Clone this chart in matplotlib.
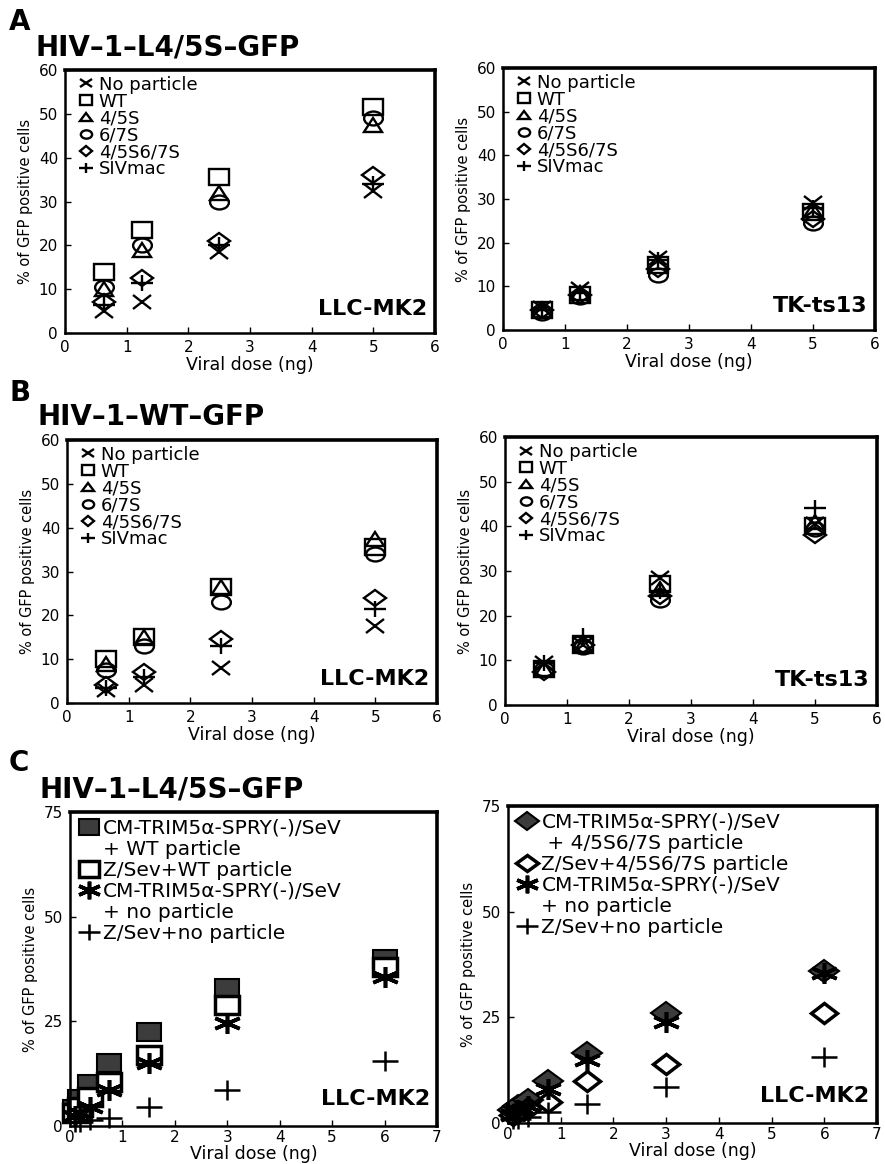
import matplotlib
matplotlib.use("Agg")
import matplotlib.pyplot as plt
from matplotlib.lines import Line2D
from matplotlib.markers import MarkerStyle
from matplotlib.transforms import Affine2D

W, H = 885, 1164
plt.rcParams['font.family'] = ['DejaVu Sans']

# panels A and B: viral dose (ng) and % of GFP positive cells
dose_ab = [0.625, 1.25, 2.5, 5]
labels_ab = ["No particle", "WT", "4/5S", "6/7S", "4/5S6/7S", "SIVmac"]

a_llc_none = [5, 7, 18.5, 32.5]
a_llc_wt = [14, 23.5, 35.5, 51.5]
a_llc_45 = [10, 19, 32, 47.5]
a_llc_67 = [10.5, 20, 30, 49]
a_llc_4567 = [7, 12.5, 21, 36]
a_llc_siv = [6.5, 11.5, 20, 34]

a_tk_none = [5, 9.5, 16.5, 29]
a_tk_wt = [4.5, 8, 15, 27]
a_tk_45 = [4.5, 8.5, 15.5, 27.5]
a_tk_67 = [4, 7.5, 12.5, 24.5]
a_tk_4567 = [4.5, 8, 14, 25.5]
a_tk_siv = [4.5, 8.5, 16, 28]

b_llc_none = [3, 4, 8, 17.5]
b_llc_wt = [10, 15, 26.5, 35.5]
b_llc_45 = [9, 15, 26.5, 37.5]
b_llc_67 = [7.5, 13, 23, 34]
b_llc_4567 = [4, 7, 14.5, 24]
b_llc_siv = [3.5, 6, 13, 21.5]

b_tk_none = [9.5, 13.5, 28.5, 40.5]
b_tk_wt = [8, 13.5, 27, 40]
b_tk_45 = [8, 13.5, 26, 41]
b_tk_67 = [8, 13, 23.5, 39.5]
b_tk_4567 = [7.5, 13.5, 24.5, 38]
b_tk_siv = [9.5, 15.5, 25.5, 44]

# panel C
dose_c = [0.09375, 0.1875, 0.375, 0.75, 1.5, 3, 6]
c_left_trim_wt = [4, 6.5, 10, 15, 22.5, 33, 40]
c_left_zsev_wt = [3, 4.5, 7, 10.5, 17, 29, 38]
c_left_trim_none = [2.5, 3, 4.5, 8.5, 15, 24.5, 35.5]
c_left_zsev_none = [1, 1, 1.5, 2, 4.5, 8.5, 15.5]

c_right_trim_4567 = [3, 4, 5.5, 10, 16.5, 26, 36]
c_right_zsev_4567 = [2, 2.5, 3.5, 5, 10, 14, 26]
c_right_trim_none = [2, 3, 4, 8, 15, 24, 35.5]
c_right_zsev_none = [1, 1, 1.5, 2.5, 4.5, 8.5, 15.5]

c_left_labels = ["CM-TRIM5α-SPRY(-)/SeV", "+ WT particle", "Z/Sev+WT particle",
                 "CM-TRIM5α-SPRY(-)/SeV", "+ no particle", "Z/Sev+no particle"]
c_right_labels = ["CM-TRIM5α-SPRY(-)/SeV", " + 4/5S6/7S particle", "Z/Sev+4/5S6/7S particle",
                  "CM-TRIM5α-SPRY(-)/SeV", "+ no particle", "Z/Sev+no particle"]

fig = plt.figure(figsize=(W / 100, H / 100), dpi=100)


def wide(m):
    return MarkerStyle(m, transform=Affine2D().scale(1.35, 1.0))


def addAxes(l, t, r, b):
    return fig.add_axes([l / W, 1 - b / H, (r - l) / W, (b - t) / H])


def styleAxes(ax, xmax, ymax, ystep, cell, xpad, tickpad):
    ax.set_xlim(0, xmax)
    ax.set_ylim(0, ymax)
    ax.set_xticks(range(0, xmax + 1))
    ax.set_yticks(range(0, ymax + 1, ystep))
    for s in ax.spines.values():
        s.set_linewidth(1.8)
    ax.spines['top'].set_linewidth(2.6)
    ax.spines['right'].set_linewidth(2.6)
    ax.tick_params(direction='in', length=4, width=1, labelsize=11, pad=5)
    ax.tick_params(axis='x', pad=tickpad)
    ax.set_xlabel("Viral dose (ng)", fontsize=12.5, labelpad=xpad)
    ax.set_ylabel("% of GFP positive cells", fontsize=10.5, labelpad=4)
    ax.text(0.98, 0.055, cell, transform=ax.transAxes, ha='right', va='bottom',
            fontsize=16, fontweight='bold')


markers_ab = ['x', 's', '^', 'o', 'D', '+']
sizes_ab = [10, 11, 10, 10, 8, 12]


def panelAB(ax, series, cell):
    for vals, lab, m, ms in zip(series, labels_ab, markers_ab, sizes_ab):
        ax.plot(dose_ab, vals, linestyle='none', marker=wide(m), ms=ms, mfc='none',
                mec='black', mew=1.7, label=lab, clip_on=False)
    styleAxes(ax, 6, 60, 10, cell, 1, 5)
    ax.legend(loc='upper left', bbox_to_anchor=(0.035, 0.985), frameon=False, fontsize=13,
              handlelength=0.7, handletextpad=0.35, labelspacing=-0.06, markerscale=0.6,
              borderpad=0.1, borderaxespad=0)


def panelC(ax, series, styles, labels):
    handles = []
    for vals, st in zip(series, styles):
        h, = ax.plot(dose_c, vals, linestyle='none', clip_on=False, **st)
        handles.append(h)
    blank = Line2D([], [], linestyle='none')
    hl = [handles[0], blank, handles[1], handles[2], blank, handles[3]]
    styleAxes(ax, 7, 75, 25, "LLC-MK2", 0, 3)
    ax.legend(hl, labels, loc='upper left', bbox_to_anchor=(0.025, 0.985), frameon=False,
              fontsize=14.5, handlelength=0.8, handletextpad=0.3, labelspacing=0.1,
              markerscale=0.85, borderpad=0.1, borderaxespad=0)


axA1 = addAxes(65, 70, 435, 333)
panelAB(axA1, [a_llc_none, a_llc_wt, a_llc_45, a_llc_67, a_llc_4567, a_llc_siv], "LLC-MK2")
axA2 = addAxes(503, 68, 875, 330)
panelAB(axA2, [a_tk_none, a_tk_wt, a_tk_45, a_tk_67, a_tk_4567, a_tk_siv], "TK-ts13")
axB1 = addAxes(67, 440, 437, 703)
panelAB(axB1, [b_llc_none, b_llc_wt, b_llc_45, b_llc_67, b_llc_4567, b_llc_siv], "LLC-MK2")
axB2 = addAxes(505, 437, 877, 705)
panelAB(axB2, [b_tk_none, b_tk_wt, b_tk_45, b_tk_67, b_tk_4567, b_tk_siv], "TK-ts13")

gray = '#3c3c3c'
asterisk = (6, 2, 0)
styles_left = [
    dict(marker=wide('s'), ms=13, mfc=gray, mec='black', mew=1.5),
    dict(marker=wide('s'), ms=13, mfc='white', mec='black', mew=2.5),
    dict(marker=wide(asterisk), ms=15, mec='black', mew=2.6),
    dict(marker=wide('+'), ms=14, mec='black', mew=1.8),
]
styles_right = [
    dict(marker=wide('D'), ms=11, mfc=gray, mec='black', mew=1.5),
    dict(marker=wide('D'), ms=10, mfc='none', mec='black', mew=2.5),
    dict(marker=wide(asterisk), ms=15, mec='black', mew=2.6),
    dict(marker=wide('+'), ms=14, mec='black', mew=1.8),
]
axC1 = addAxes(70, 812, 437, 1126)
panelC(axC1, [c_left_trim_wt, c_left_zsev_wt, c_left_trim_none, c_left_zsev_none],
       styles_left, c_left_labels)
axC2 = addAxes(508, 806, 877, 1123)
panelC(axC2, [c_right_trim_4567, c_right_zsev_4567, c_right_trim_none, c_right_zsev_none],
       styles_right, c_right_labels)

# panel letters and titles
for letter, y in [("A", 22), ("B", 393), ("C", 763)]:
    fig.text(9 / W, 1 - y / H, letter, fontsize=20, fontweight='black', va='center', ha='left')
for title, x, y in [("HIV–1–L4/5S–GFP", 35, 48), ("HIV–1–WT–GFP", 38, 417), ("HIV–1–L4/5S–GFP", 40, 790)]:
    fig.text(x / W, 1 - y / H, title, fontsize=20, fontweight='bold', va='center', ha='left')

fig.savefig("out.png", dpi=100)
